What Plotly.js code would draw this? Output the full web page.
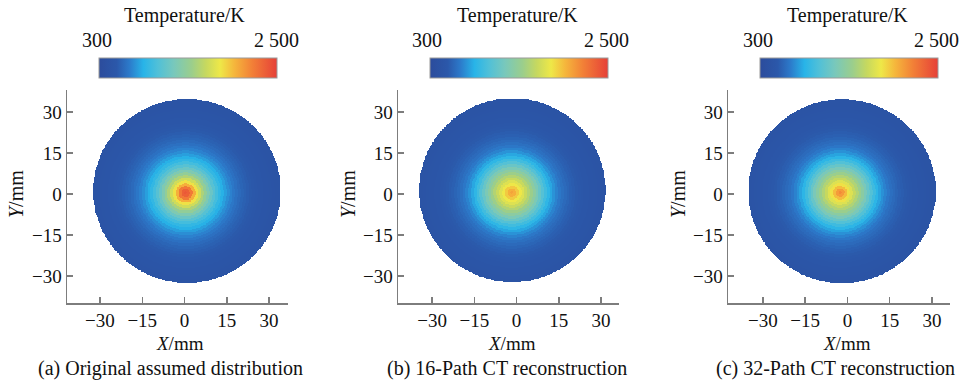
<!DOCTYPE html>
<html>
<head>
<meta charset="utf-8">
<script src="https://cdn.plot.ly/plotly-3.0.1.min.js"></script>
<style>
  html, body { margin: 0; padding: 0; background: #ffffff; }
  #chart { width: 968px; height: 385px; }
</style>
</head>
<body>
<div id="chart"></div>
<script>
// Radial temperature profiles (K), one sample per 1 mm of distance from the hot spot
const radiusMm = [0, 1, 2, 3, 4, 5, 6, 7, 8, 9, 10, 11, 12, 13, 14, 15, 16, 17,
                  18, 19, 20, 21, 22, 23, 24, 25, 26, 27, 28, 29, 30, 31, 32, 33];
const tempOriginal = [2380, 2340, 2220, 2000, 1820, 1660, 1520, 1390, 1270, 1160, 1060, 975,
                      900, 840, 785, 735, 695, 660, 630, 602, 580, 560, 542, 527,
                      514, 502, 492, 482, 474, 467, 460, 454, 448, 442];
const tempPath16 = [2050, 2000, 1900, 1800, 1720, 1630, 1540, 1450, 1350, 1250, 1150, 1050,
                    960, 880, 810, 750, 700, 660, 628, 600, 578, 558, 542, 527,
                    514, 502, 492, 482, 474, 467, 460, 454, 448, 442];
const tempPath32 = [2150, 2080, 1950, 1820, 1720, 1620, 1530, 1440, 1340, 1240, 1140, 1040,
                    950, 870, 800, 745, 698, 658, 626, 600, 578, 558, 542, 527,
                    514, 502, 492, 482, 474, 467, 460, 454, 448, 442];

// Hot-spot and disc centres of each field (mm)
const hotX = [0.3, -1.6, -2.7];
const hotY = [0.3, 0.4, 0.4];
const discX = [0.8, -1.4, -2.0];
const discY = [1.0, 1.3, 0.9];

const captions = ['(a) Original assumed distribution',
                  '(b) 16-Path CT reconstruction',
                  '(c) 32-Path CT reconstruction'];
const axisTicks = [-30, -15, 0, 15, 30];
const tempRange = [300, 2500];
const tempLabels = ['300', '2 500'];

const profiles = [tempOriginal, tempPath16, tempPath32];

// Muted jet-like colour ramp
const jetMuted = [
  [0.00, 'rgb(44,76,156)'],
  [0.10, 'rgb(43,88,170)'],
  [0.17, 'rgb(44,122,202)'],
  [0.25, 'rgb(40,180,232)'],
  [0.33, 'rgb(80,192,216)'],
  [0.42, 'rgb(120,200,188)'],
  [0.52, 'rgb(155,206,140)'],
  [0.60, 'rgb(198,216,95)'],
  [0.68, 'rgb(238,232,72)'],
  [0.76, 'rgb(245,182,60)'],
  [0.86, 'rgb(242,128,55)'],
  [1.00, 'rgb(230,64,56)']
];

const FONT = 'Liberation Serif, Times New Roman, serif';
const W = 968, H = 385;

// fine grid of cell centres; each cell takes the profile sample at its rounded radius
const gridStep = 0.25;
const gridAxis = [];
for (let v = -36; v <= 36 + 1e-9; v += gridStep) gridAxis.push(+v.toFixed(2));

function buildField(k) {
  const prof = profiles[k];
  const z = [];
  for (const y of gridAxis) {
    const row = [];
    for (const x of gridAxis) {
      const ex = (x - discX[k]) / 33.2, ey = (y - discY[k]) / 33.7;
      if (ex * ex + ey * ey > 1) { row.push(null); continue; }
      const r = Math.hypot(x - hotX[k], y - hotY[k]);
      const idx = Math.min(Math.round(r), radiusMm.length - 1);
      row.push(prof[idx]);
    }
    z.push(row);
  }
  return z;
}

// pixel geometry of the three panels
const yAxisPx = [67, 398, 728];
const xEndPx = [288, 619, 950];
const xRanges = [[-41.7, 36.7], [-42.1, 36.4], [-42.4, 36.4]];
const yRange = [-39.9, 38.05];
const plotTopPx = 90, plotBottomPx = 303;
const barLeftPx = [99, 430, 760];
const barLen = 178;

const traces = [];
const layout = {
  width: W, height: H,
  margin: { l: 0, r: 0, t: 0, b: 0, autoexpand: false },
  paper_bgcolor: '#ffffff', plot_bgcolor: '#ffffff',
  font: { family: FONT, size: 20, color: '#111' },
  showlegend: false,
  annotations: []
};

const ann = (text, xpx, ypx, extra) => Object.assign({
  text: text, xref: 'paper', yref: 'paper', x: xpx / W, y: 1 - ypx / H,
  xanchor: 'center', yanchor: 'middle', showarrow: false,
  font: { family: FONT, size: 20, color: '#111' }
}, extra || {});

const titleCx = [184, 517, 847];
const lowCx = [97, 427, 758];
const highCx = [276, 606, 936];
const yTitleCx = [16, 348, 678];
const xTitleCx = [180, 512, 847];
const captionCx = [170, 507, 835];

for (let k = 0; k < 3; k++) {
  const sfx = k === 0 ? '' : String(k + 1);
  traces.push({
    type: 'heatmap',
    x: gridAxis, y: gridAxis, z: buildField(k),
    xaxis: 'x' + sfx, yaxis: 'y' + sfx,
    zmin: tempRange[0], zmax: tempRange[1],
    colorscale: jetMuted, zsmooth: false, hoverongaps: false,
    colorbar: {
      orientation: 'h',
      x: (barLeftPx[k] + barLen / 2) / W, xanchor: 'center',
      y: 1 - 58 / H, yanchor: 'top',
      len: barLen, lenmode: 'pixels',
      thickness: 20, thicknessmode: 'pixels',
      xpad: 0, ypad: 0,
      showticklabels: false, ticks: '',
      outlinewidth: 1, outlinecolor: '#9a9a9a'
    }
  });

  const axCommon = {
    showline: true, linecolor: '#7d7d7d', linewidth: 1.5,
    ticks: 'inside', ticklen: 6, tickwidth: 1.5, tickcolor: '#7d7d7d',
    showgrid: false, zeroline: false, tickmode: 'array', tickvals: axisTicks,
    tickfont: { family: FONT, size: 19, color: '#111' }, fixedrange: true
  };
  layout['xaxis' + sfx] = Object.assign({}, axCommon, {
    domain: [yAxisPx[k] / W, xEndPx[k] / W],
    range: xRanges[k], anchor: 'y' + sfx
  });
  layout['yaxis' + sfx] = Object.assign({}, axCommon, {
    domain: [1 - plotBottomPx / H, 1 - plotTopPx / H],
    range: yRange, anchor: 'x' + sfx
  });

  layout.annotations.push(ann('Temperature/K', titleCx[k], 15));
  layout.annotations.push(ann(tempLabels[0], lowCx[k], 40));
  layout.annotations.push(ann(tempLabels[1], highCx[k], 40));
  layout.annotations.push(ann('<i>Y</i>/mm', yTitleCx[k], 194, { textangle: -90 }));
  layout.annotations.push(ann('<i>X</i>/mm', xTitleCx[k], 343, { font: { family: FONT, size: 19, color: '#111' } }));
  layout.annotations.push(ann(captions[k], captionCx[k], 368));
}

Plotly.newPlot('chart', traces, layout, { staticPlot: true, displayModeBar: false });
</script>
</body>
</html>
